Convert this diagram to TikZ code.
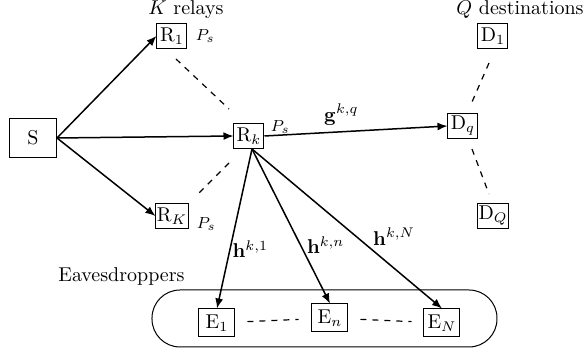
\documentclass[tikz,border=0pt]{standalone}
\usepackage{amsmath}
\usepackage{tikz}
\usetikzlibrary{arrows.meta, positioning, calc}

\begin{document}
\begin{tikzpicture}[
    x=0.5pt, y=-0.5pt,
    srcNode/.style={draw, line width=0.5pt, minimum width=23.5pt, minimum height=19.5pt, inner sep=1pt},
    relNode/.style={draw, line width=0.5pt, minimum width=15pt, minimum height=12.5pt, inner sep=0.5pt},
    eveNode/.style={draw, line width=0.5pt, minimum width=18pt, minimum height=14pt, inner sep=1pt},
    powNode/.style={font=\footnotesize, inner sep=1pt},
    chanNode/.style={inner sep=1pt},
    grpNode/.style={inner sep=1pt},
    arrLine/.style={-{Latex[length=5pt,width=4pt]}, line width=0.75pt},
    dashLine/.style={dashed, semithick}
]
\useasboundingbox (0,0) rectangle (586,351);

% eavesdropper cluster (drawn first, behind the boxes)
\node[draw, line width=0.5pt, rounded corners=14pt, minimum width=172.5pt, minimum height=28.5pt] (eve) at (324.5,318.5) {};

\node[srcNode] (s) at (33,138) {S};

\node[relNode] (r1) at (172,36) {R$_1$};
\node[relNode] (rk) at (249,136) {R$_k$};
\node[relNode] (rK) at (172,216) {R$_K$};

\node[relNode] (d1) at (493,36) {D$_1$};
\node[relNode] (dq) at (463,126) {D$_q$};
\node[relNode] (dQ) at (493,216) {D$_Q$};

\node[eveNode] (e1) at (217,323) {E$_1$};
\node[eveNode] (en) at (330,318) {E$_n$};
\node[eveNode] (eN) at (442,323) {E$_N$};

% group labels
\node[grpNode, above=1pt of r1, xshift=7pt] (l_rel) {$K$ relays};
\node[grpNode, above=1pt of d1, xshift=13.5pt] (l_dst) {$Q$ destinations};
\node[grpNode, above=1pt of eve.north west, xshift=-15pt] (l_eve) {Eavesdroppers};

% relay powers
\node[powNode, right=3pt of r1] (p1) {$P_s$};
\node[powNode, anchor=south west] (pk) at ([xshift=2pt]rk.east) {$P_s$};
\node[powNode, right=3pt of rK, yshift=-4pt] (pK) {$P_s$};

% links
\draw[arrLine] (s.east) -- (r1.west);
\draw[arrLine] (s.east) -- (rk.west);
\draw[arrLine] (s.east) -- (rK.west);
\draw[arrLine] (rk.east) -- (dq.west) node[chanNode, pos=0.42, above=2pt] (g) {$\mathbf{g}^{k,q}$};
\draw[arrLine] ([xshift=1.5pt]rk.south) -- (e1.north) node[chanNode, pos=0.63, right=0pt] (h1) {$\mathbf{h}^{k,1}$};
\draw[arrLine] ([xshift=1.5pt]rk.south) -- (en.north) node[chanNode, pos=0.62, right=2pt] (hn) {$\mathbf{h}^{k,n}$};
\draw[arrLine] ([xshift=1.5pt]rk.south) -- (eN.north) node[chanNode, pos=0.55, right=7pt] (hN) {$\mathbf{h}^{k,N}$};

% dots between members
\draw[dashLine] ([xshift=2pt,yshift=-5pt]r1.south) -- ([xshift=-10pt,yshift=7pt]rk.north);
\draw[dashLine] ([xshift=-10pt,yshift=-7pt]rk.south) -- ([xshift=12.5pt,yshift=4pt]rK.north);
\draw[dashLine] ([xshift=-2pt,yshift=-7pt]d1.south) -- ([xshift=4.5pt,yshift=5.5pt]dq.north);
\draw[dashLine] ([xshift=4.5pt,yshift=-5pt]dq.south) -- ([xshift=-2pt,yshift=4.5pt]dQ.north);
\draw[dashLine, shorten <=6pt, shorten >=6.5pt] (e1) -- (en);
\draw[dashLine, shorten <=6pt, shorten >=6pt] (en) -- (eN);

\end{tikzpicture}
\end{document}
